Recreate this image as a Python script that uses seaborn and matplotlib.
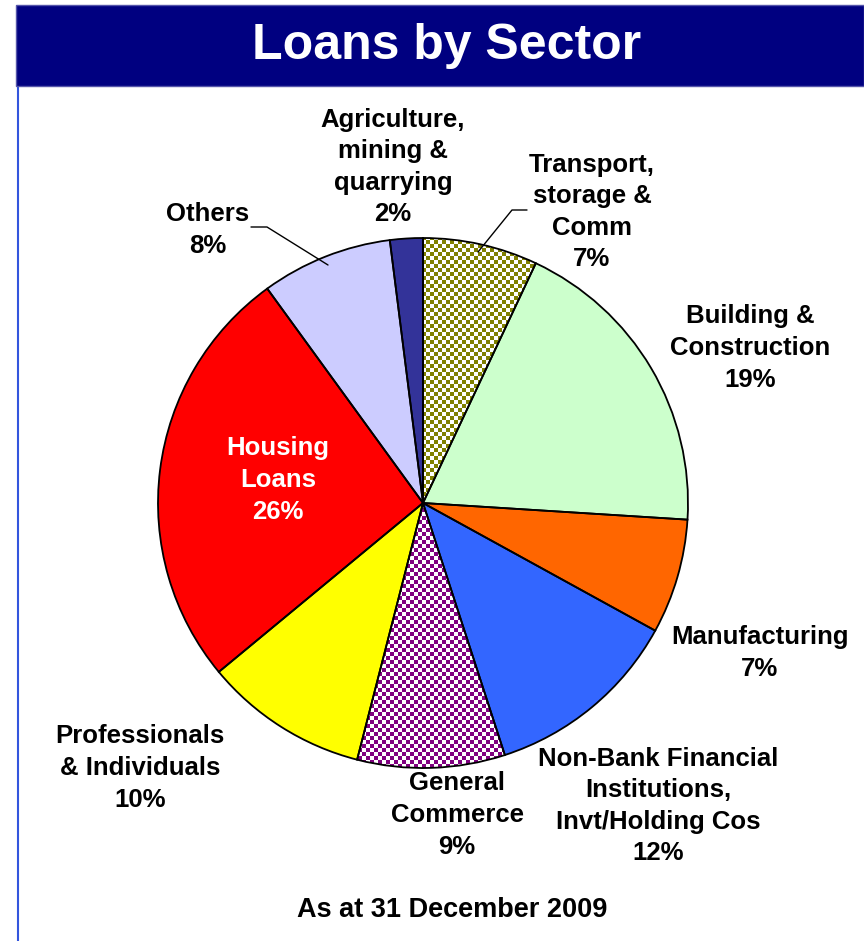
import numpy as np
import seaborn as sns
import matplotlib.pyplot as plt
from matplotlib.patches import Rectangle

# data, clockwise from 12 o'clock
sectors = ['Transport,\nstorage &\nComm', 'Building &\nConstruction', 'Manufacturing',
           'Non-Bank Financial\nInstitutions,\nInvt/Holding Cos', 'General\nCommerce',
           'Professionals\n& Individuals', 'Housing\nLoans', 'Others',
           'Agriculture,\nmining &\nquarrying']
shares = [7, 19, 7, 12, 9, 10, 26, 8, 2]
colors = ['#ffffff', '#ccffcc', '#ff6600', '#3366ff', '#ffffff',
          '#ffff00', '#ff0000', '#ccccff', '#333399']
checker = {0: (128, 128, 0), 4: (128, 0, 128)}  # patterned slices

sns.set_style('white')
plt.rcParams['font.family'] = ['Liberation Sans', 'DejaVu Sans']

W, H = 864, 941
fig = plt.figure(figsize=(W / 100, H / 100), dpi=100)
ax = fig.add_axes([0, 0, 1, 1])

cx, cy, r = 423, H - 503, 265
pal = sns.color_palette(colors)

wedges, _ = ax.pie(shares, colors=pal, startangle=90, counterclock=False,
                   center=(cx, cy), radius=r, frame=True,
                   wedgeprops=dict(linewidth=0))

# checkerboard fills
cell = 4
n = int(2 * r / cell) + 2
board = np.indices((n, n)).sum(0) % 2
for i, rgb in checker.items():
    img = np.ones((n, n, 3))
    img[board == 1] = np.array(rgb) / 255
    im = ax.imshow(img, extent=(cx - r, cx - r + n * cell, cy - r, cy - r + n * cell),
                   interpolation='nearest', zorder=1.5)
    im.set_clip_path(wedges[i])

# outlines
ax.pie(shares, colors=['none'] * len(shares), startangle=90, counterclock=False,
       center=(cx, cy), radius=r, frame=True,
       wedgeprops=dict(linewidth=1.3, edgecolor='black', zorder=2))
ax.set_xlim(0, W)
ax.set_ylim(0, H)
ax.set_aspect('auto')
ax.axis('off')

# label positions (pixel centres)
label_pos = [(592, 212), (750, 348), (760, 653), (658, 806), (457, 815),
             (140, 768), (278, 480), (208, 230), (393, 167)]
for i, (name, pct, (px, py)) in enumerate(zip(sectors, shares, label_pos)):
    ax.text(px, H - py, f'{name}\n{pct}%', ha='center', va='center',
            fontsize=18.5, fontweight='bold', linespacing=1.4,
            color='white' if i == 6 else 'black', zorder=3)

# leader lines
ax.plot([251, 267, 328], [H - 227, H - 227, H - 265], color='black', lw=1, zorder=3)
ax.plot([527, 512, 478], [H - 210, H - 210, H - 252], color='black', lw=1, zorder=3)

# title banner and frame
fig.patches.append(Rectangle((16 / W, 1 - 86 / H), (W - 16) / W, 81 / H,
                             transform=fig.transFigure, facecolor='#000080',
                             edgecolor='#5555aa', lw=1))
fig.text(447 / W, 1 - 46 / H, 'Loans by Sector', ha='center', va='center',
         fontsize=36, fontweight='bold', color='white')
ax.plot([18, 18], [0, H - 86], color='#3355dd', lw=1.5)

fig.text(452 / W, 1 - 910 / H, 'As at 31 December 2009', ha='center', va='center',
         fontsize=19.5, fontweight='bold', color='black')

fig.savefig('out.png', dpi=100)
